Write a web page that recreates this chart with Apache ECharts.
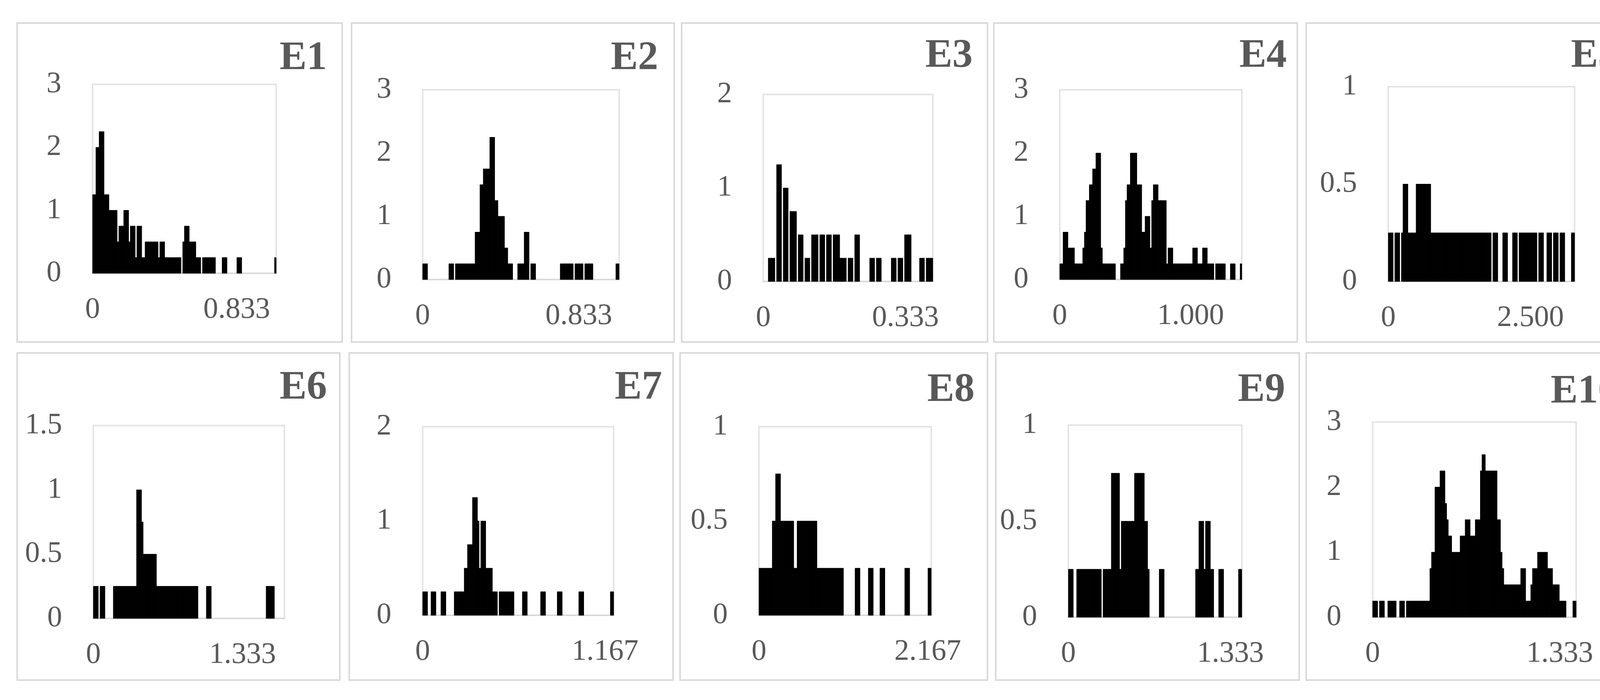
<!DOCTYPE html>
<html><head><meta charset="utf-8">
<script src="https://cdn.jsdelivr.net/npm/echarts@6/dist/echarts.min.js"></script>
<style>html,body{margin:0;padding:0;background:#fff}#c{width:4211px;height:1793px}</style>
</head><body><div id="c"></div>
<script>
// ---------- DATA (histogram heights per bin) ----------
const panelNames = ['E1','E2','E3','E4','E5','E6','E7','E8','E9','E10'];

const E1 = [1.25,1.25,2,2,2.25,2.25,2.25,1.25,1.25,1.25,
1,1,1,1,1,0.5,0.75,0.75,0.75,1,
1,1,0.5,0.75,0.75,0.75,0.25,0.75,0.75,0.75,
0.25,0.25,0.5,0.5,0.5,0.5,0.5,0.5,0.5,0.5,
0.25,0.5,0.5,0.5,0.25,0.25,0.25,0.25,0.25,0.25,
0.25,0.25,0.25,0.25,0,0.5,0.75,0.75,0.75,0.5,
0.5,0.5,0.5,0.25,0.25,0.25,0,0.25,0.25,0.25,
0.25,0.25,0.25,0.25,0.25,0,0,0,0,0.25,
0.25,0.25,0,0,0,0,0,0,0.25,0.25,
0.25,0,0,0,0,0,0,0,0,0,
0,0,0,0,0,0,0,0,0,0,
0,0.25];

const E2 = [0.25,0.25,0.25,0,0,0,0,0,0,0,
0,0,0,0,0,0,0.25,0.25,0.25,0,
0.25,0.25,0.25,0.25,0.25,0.25,0.25,0.25,0.25,0.25,
0.25,0.25,0.75,0.75,0.75,1.5,1.5,1.75,1.75,1.75,
1.75,2.25,2.25,2.25,1.25,1.25,1,1,1,1,
0.5,0.5,0.25,0.25,0.25,0,0,0,0.25,0.25,
0.25,0.25,0.75,0.75,0.75,0,0.25,0.25,0.25,0,
0,0,0,0,0,0,0,0,0,0,
0,0,0,0,0.25,0.25,0.25,0.25,0.25,0.25,
0.25,0.25,0,0.25,0.25,0.25,0.25,0.25,0,0.25,
0.25,0.25,0.25,0.25,0,0,0,0,0,0,
0,0,0,0,0,0,0,0,0.25,0.25];

const E3 = [0,0,0,0.25,0.25,0.25,0.25,0,1.25,1.25,
1.25,0,1,1,1,0,0.75,0.75,0.75,0.75,
0,0.5,0.5,0.5,0,0.25,0.25,0.25,0,0.5,
0.5,0.5,0.5,0,0.5,0.5,0.5,0,0.5,0.5,
0.5,0,0.5,0.5,0.5,0.5,0.25,0.25,0.25,0.25,
0,0.25,0.25,0.25,0,0.5,0.5,0.5,0,0,
0,0,0,0,0.25,0.25,0.25,0,0.25,0.25,
0.25,0,0,0,0,0,0,0.25,0.25,0.25,
0,0.25,0.25,0.25,0,0.5,0.5,0.5,0.5,0,
0,0,0,0,0.25,0.25,0.25,0,0.25,0.25,
0.25,0.25];

const E4 = [0.25,0.25,0.75,0.75,0.75,0.5,0.5,0.5,0.5,0.25,
0.25,0.25,0.25,0.25,0.5,0.75,1.25,1.25,1.5,1.5,
1.75,1.75,2,2,2,0.5,0.25,0.25,0.25,0.25,
0.25,0.25,0.25,0.25,0,0,0,0.25,0.25,0.5,
1.25,1.5,1.5,2,2,2,2,1.5,1.5,1.5,
0.75,0.75,1,1,1,0.5,1.25,1.5,1.5,1.5,
1.25,1.25,1.25,1.25,1.25,0.25,0.5,0.5,0.5,0.25,
0.25,0.25,0.25,0.25,0.25,0.25,0.25,0.25,0.25,0.25,
0.25,0.5,0.5,0.5,0.25,0.25,0.25,0.5,0.5,0.5,
0.25,0.25,0.25,0.25,0,0.25,0.25,0.25,0.25,0.25,
0.25,0,0,0,0.25,0.25,0.25,0,0,0,0.25];

const E5 = [0.25,0.25,0.25,0,0.25,0.25,0.25,0,0.25,0.5,
0.5,0.5,0.25,0.25,0.25,0.25,0.25,0.5,0.5,0.5,
0.5,0.5,0.5,0.5,0.5,0.5,0.25,0.25,0.25,0.25,
0.25,0.25,0.25,0.25,0.25,0.25,0.25,0.25,0.25,0.25,
0.25,0.25,0.25,0.25,0.25,0.25,0.25,0.25,0.25,0.25,
0.25,0.25,0.25,0.25,0.25,0.25,0.25,0.25,0.25,0.25,
0.25,0.25,0.25,0,0.25,0.25,0.25,0,0,0,
0.25,0.25,0.25,0,0,0,0.25,0.25,0.25,0,
0.25,0.25,0.25,0.25,0.25,0.25,0.25,0.25,0.25,0.25,
0.25,0,0.25,0.25,0.25,0,0,0.25,0.25,0.25,
0,0.25,0.25,0.25,0,0.25,0.25,0.25,0,0,
0,0,0.25,0.25];

const E6 = [0.25,0.25,0.25,0,0.25,0.25,0.25,0,0,0,
0,0,0.25,0.25,0.25,0.25,0.25,0.25,0.25,0.25,
0.25,0.25,0.25,0.25,0.25,0.25,1,1,1,0.75,
0.5,0.5,0.5,0.5,0.5,0.5,0.5,0.5,0.25,0.25,
0.25,0.25,0.25,0.25,0.25,0.25,0.25,0.25,0.25,0.25,
0.25,0.25,0.25,0.25,0.25,0.25,0.25,0.25,0.25,0.25,
0.25,0.25,0.25,0,0,0,0,0,0.25,0.25,
0.25,0,0,0,0,0,0,0,0,0,
0,0,0,0,0,0,0,0,0,0,
0,0,0,0,0,0,0,0,0,0,
0,0,0,0,0.25,0.25,0.25,0.25,0.25,0,
0,0,0,0,0];

const E7 = [0.25,0.25,0.25,0,0,0.25,0.25,0.25,0,0,
0,0.25,0.25,0.25,0,0,0,0,0,0.25,
0.25,0.25,0.25,0.25,0.25,0.5,0.5,0.75,0.75,0.75,
1.25,1.25,1.25,1,0.5,1,1,1,0.5,0.5,
0.5,0.5,0.25,0.25,0.25,0,0.25,0.25,0.25,0.25,
0.25,0.25,0.25,0.25,0.25,0,0,0,0,0,
0.25,0.25,0.25,0,0,0,0,0,0,0,
0,0.25,0.25,0.25,0,0,0,0,0,0,
0,0.25,0.25,0.25,0,0,0,0,0,0,
0,0,0,0,0.25,0.25,0.25,0,0,0,
0,0,0,0,0,0,0,0,0,0,
0,0,0,0.25,0.25];

const E8 = [0.25,0.25,0.25,0.25,0.25,0.25,0.25,0.25,0.5,0.5,
0.75,0.75,0.75,0.5,0.5,0.5,0.5,0.5,0.5,0.5,
0.5,0.25,0.25,0.5,0.5,0.5,0.5,0.5,0.5,0.5,
0.5,0.5,0.5,0.5,0.5,0.25,0.25,0.25,0.25,0.25,
0.25,0.25,0.25,0.25,0.25,0.25,0.25,0.25,0.25,0.25,
0.25,0,0,0,0,0,0,0,0.25,0.25,
0.25,0,0,0,0,0,0.25,0.25,0.25,0,
0,0,0,0.25,0.25,0.25,0,0,0,0,
0,0,0,0,0,0,0,0,0.25,0.25,
0.25,0,0,0,0,0,0,0,0,0,
0,0,0.25,0.25];

const E9 = [0.25,0.25,0.25,0,0,0.25,0.25,0.25,0.25,0.25,
0.25,0.25,0.25,0.25,0.25,0.25,0.25,0.25,0.25,0.25,
0,0.25,0.25,0.25,0.25,0.25,0.75,0.75,0.75,0.75,
0.75,0.25,0.5,0.5,0.5,0.5,0.5,0.5,0.5,0.5,
0.75,0.75,0.75,0.75,0.75,0.75,0.5,0.5,0.25,0,
0,0,0,0,0,0.25,0.25,0.25,0,0,
0,0,0,0,0,0,0,0,0,0,
0,0,0,0,0,0,0,0.25,0.25,0.5,
0.5,0.5,0.25,0.5,0.5,0.5,0.25,0.25,0,0,
0,0.25,0.25,0.25,0,0,0,0,0,0,
0,0,0,0.25,0.25];

const E10 = [0.25,0.25,0.25,0,0.25,0.25,0.25,0,0,0.25,
0.25,0.25,0.25,0.25,0,0,0.25,0.25,0.25,0,
0.25,0.25,0.25,0.25,0.25,0.25,0.25,0.25,0.25,0.25,
0.25,0.25,0.25,0.25,0.75,1,1,2,2,2,
2.25,2.25,2.25,1.75,1.5,1.25,1.25,1,1,1,
1,1,1.25,1.25,1.25,1.5,1.5,1.5,1.25,1.25,
1.25,1.5,1.5,1.5,2.25,2.5,2.5,2.25,2.25,2.25,
2.25,2.25,2.25,2.25,1.5,1.5,1,0.75,0.5,0.5,
0.5,0.5,0.5,0.5,0.5,0.5,0.5,0.5,0.75,0.75,
0.75,0.25,0.25,0.25,0.5,0.75,0.75,0.75,1,1,
1,1,1,1,0.75,0.75,0.75,0.5,0.5,0.5,
0.5,0.25,0.25,0.25,0.25,0,0,0,0,0.25,0.25];

const panelData = [E1,E2,E3,E4,E5,E6,E7,E8,E9,E10];

// axis extents and tick labels
const xMax   = [1.061, 1.048, 0.397, 1.391, 3.276, 1.706, 1.222, 2.212, 1.426, 1.450];
const xTick  = [0.833, 0.833, 0.333, 1.000, 2.500, 1.333, 1.167, 2.167, 1.333, 1.333];
const yMax   = [3, 3, 2, 3, 1, 1.5, 2, 1, 1, 3];
const yStep  = [1, 1, 1, 1, 0.5, 0.5, 1, 0.5, 0.5, 1];

// ---------- LAYOUT (pixels) ----------
// plot areas: [left, top, right, bottom]
const plotRect = [
  [237,216,707,700],[1082,230,1585,716],[1954,242,2388,721],[2713,230,3179,716],[3554,222,4031,721],
  [239,1090,728,1584],[1082,1093,1571,1576],[1943,1093,2384,1576],[2735,1089,3179,1581],[3514,1081,4035,1581]
];
// panel boxes: [left, top, right, bottom]
const boxRect = [
  [44,59,876,876],[900,59,1726,876],[1745,59,2528,876],[2544,59,3321,876],[3344,59,4176,876],
  [44,904,870,1742],[894,904,1723,1742],[1741,904,2528,1742],[2549,904,3326,1742],[3344,904,4174,1742]
];
// title anchor: [right x, middle y]
const titlePos = [
  [837,150],[1685,150],[2490,144],[3294,144],[4143,144],
  [837,994],[1695,994],[2495,1000],[3290,1000],[4143,1004]
];

const W = 4211, H = 1793;
const labelColor = '#595959';
const fontFam = '"Liberation Serif", "Times New Roman", serif';

const grids = [], xAxes = [], yAxes = [], series = [], graphics = [];
panelNames.forEach((name, k) => {
  const r = plotRect[k];
  grids.push({left: r[0], top: r[1], width: r[2]-r[0], height: r[3]-r[1],
    show: true, borderColor: '#e4e4e4', borderWidth: 4, backgroundColor: 'transparent', containLabel: false});
  xAxes.push({type: 'value', gridIndex: k, min: 0, max: xMax[k], interval: xTick[k],
    axisLine: {show: true, onZero: false, lineStyle: {color: '#d9d9d9', width: 4}},
    axisTick: {show: false}, splitLine: {show: false},
    axisLabel: {show: true, showMinLabel: true, showMaxLabel: false, margin: 56,
      color: labelColor, fontFamily: fontFam, fontSize: 76,
      formatter: v => (v === 0 ? '0' : v.toFixed(3))}});
  yAxes.push({type: 'value', gridIndex: k, min: 0, max: yMax[k], interval: yStep[k],
    axisLine: {show: false}, axisTick: {show: false}, splitLine: {show: false},
    axisLabel: {show: true, margin: 80, color: labelColor, fontFamily: fontFam, fontSize: 76}});
  const bins = panelData[k];
  const w = xMax[k] / bins.length;
  series.push({type: 'custom', xAxisIndex: k, yAxisIndex: k,
    encode: {x: [0, 1], y: 2},
    data: bins.map((h, i) => [i * w, (i + 1) * w, h]),
    renderItem: function (params, api) {
      const h = api.value(2);
      if (!h) return null;
      const p0 = api.coord([api.value(0), h]);
      const p1 = api.coord([api.value(1), 0]);
      return {type: 'rect',
        shape: {x: p0[0], y: p0[1], width: p1[0] - p0[0], height: p1[1] - p0[1]},
        style: {fill: '#000', stroke: '#000', lineWidth: 1}};
    }});
  const b = boxRect[k];
  graphics.push({type: 'rect', z: -10, silent: true,
    shape: {x: b[0], y: b[1], width: b[2]-b[0], height: b[3]-b[1]},
    style: {fill: 'transparent', stroke: '#d9d9d9', lineWidth: 4}});
  const t = titlePos[k];
  graphics.push({type: 'text', x: t[0], y: t[1], z: 10, silent: true,
    style: {text: name, fill: labelColor, fontFamily: fontFam, fontWeight: 'bold', fontSize: 104,
      align: 'right', verticalAlign: 'middle', textAlign: 'right', textVerticalAlign: 'middle'}});
});

const chart = echarts.init(document.getElementById('c'), null, {width: W, height: H, renderer: 'canvas'});
chart.setOption({
  animation: false,
  backgroundColor: '#ffffff',
  grid: grids, xAxis: xAxes, yAxis: yAxes, series: series,
  graphic: graphics
});
</script></body></html>
